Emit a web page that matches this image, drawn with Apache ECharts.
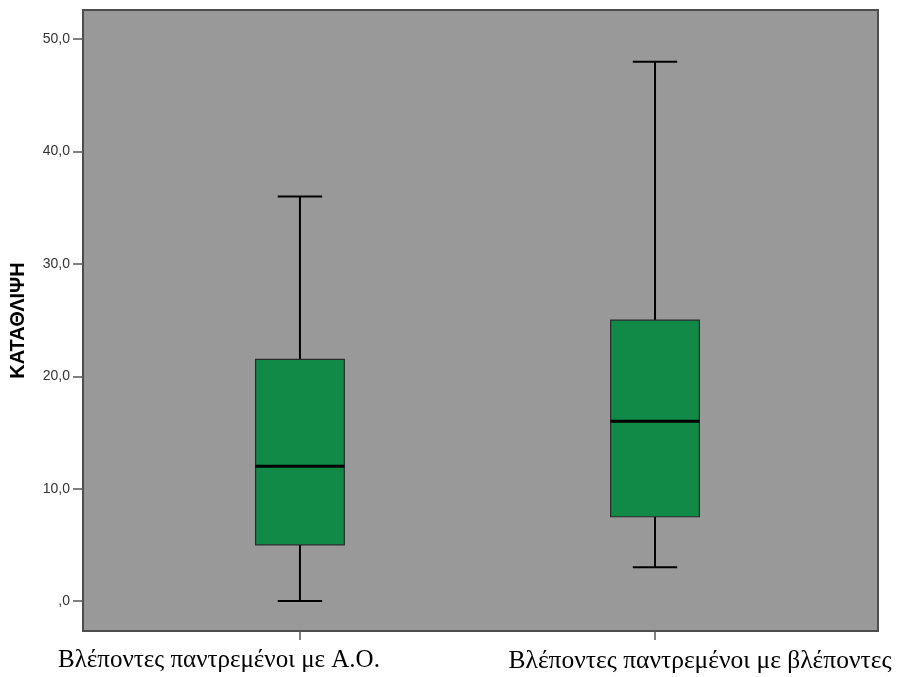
<!DOCTYPE html>
<html>
<head>
<meta charset="utf-8">
<script src="https://cdn.jsdelivr.net/npm/echarts@6/dist/echarts.min.js"></script>
<style>html,body{margin:0;padding:0;background:#fff;}#c{width:909px;height:677px;}</style>
</head>
<body>
<div id="c"></div>
<script>
const categories = ['Βλέποντες παντρεμένοι με Α.Ο.', 'Βλέποντες παντρεμένοι με βλέποντες'];
const minValues = [0, 3];
const q1Values = [5, 7.5];
const medianValues = [12, 16];
const q3Values = [21.5, 25];
const maxValues = [36, 48];
const yTicks = [0, 10, 20, 30, 40, 50];
const yAxisTitle = 'ΚΑΤΑΘΛΙΨΗ';

const data = categories.map((c, i) => [i + 1, minValues[i], q1Values[i], medianValues[i], q3Values[i], maxValues[i]]);

const chart = echarts.init(document.getElementById('c'), null, {renderer: 'canvas'});
chart.setOption({
  animation: false,
  backgroundColor: '#ffffff',
  grid: {
    left: 83, right: 31, top: 10, bottom: 46,
    show: true, backgroundColor: '#999999', borderColor: '#4d4d4d', borderWidth: 2
  },
  xAxis: {
    type: 'value', min: 0.389, max: 2.628,
    splitLine: {show: false},
    axisLine: {show: false, onZero: false},
    axisTick: {show: true, customValues: [1, 2], length: 9, lineStyle: {color: '#555555', width: 1.5}},
    axisLabel: {
      customValues: [1, 2], margin: 17,
      formatter: v => (Math.round(v) === 1 ? '{l|' : '{r|') + categories[Math.round(v) - 1] + '}',
      fontFamily: 'Liberation Serif', fontSize: 25, color: '#000000',
      rich: {
        l: {fontFamily: 'Liberation Serif', fontSize: 25, color: '#000000', padding: [0, 162, 0, 0]},
        r: {fontFamily: 'Liberation Serif', fontSize: 25.5, color: '#000000', padding: [0, 0, 0, 90]}
      }
    }
  },
  yAxis: {
    type: 'value', min: -2.67, max: 52.6,
    name: yAxisTitle, nameLocation: 'middle', nameGap: 55, nameRotate: 90,
    nameTextStyle: {fontFamily: 'Liberation Sans', fontWeight: 'bold', fontSize: 20, color: '#000000'},
    splitLine: {show: false},
    axisLine: {show: false, onZero: false},
    axisTick: {show: true, customValues: yTicks, length: 10, lineStyle: {color: '#555555', width: 1.5}},
    axisLabel: {
      customValues: yTicks, margin: 13,
      formatter: v => (v === 0 ? ',0' : v.toFixed(1).replace('.', ',')),
      fontFamily: 'Liberation Sans', fontSize: 14, color: '#333333'
    }
  },
  series: [{
    type: 'custom',
    data: data,
    encode: {x: 0, y: [1, 2, 3, 4, 5]},
    renderItem: function (params, api) {
      const x = api.value(0);
      const boxW = api.size([0.25, 0])[0];
      const capW = boxW / 2;
      const pMin = api.coord([x, api.value(1)]);
      const pQ1 = api.coord([x, api.value(2)]);
      const pMed = api.coord([x, api.value(3)]);
      const pQ3 = api.coord([x, api.value(4)]);
      const pMax = api.coord([x, api.value(5)]);
      const cx = pMin[0];
      const ws = {stroke: '#000000', lineWidth: 2};
      return {
        type: 'group',
        children: [
          {type: 'line', shape: {x1: cx, y1: pMax[1], x2: cx, y2: pQ3[1]}, style: ws},
          {type: 'line', shape: {x1: cx, y1: pQ1[1], x2: cx, y2: pMin[1]}, style: ws},
          {type: 'line', shape: {x1: cx - capW / 2, y1: pMax[1], x2: cx + capW / 2, y2: pMax[1]}, style: ws},
          {type: 'line', shape: {x1: cx - capW / 2, y1: pMin[1], x2: cx + capW / 2, y2: pMin[1]}, style: ws},
          {type: 'rect', shape: {x: cx - boxW / 2, y: pQ3[1], width: boxW, height: pQ1[1] - pQ3[1]},
            style: {fill: '#118a48', stroke: '#2a2a2a', lineWidth: 1.2}},
          {type: 'line', shape: {x1: cx - boxW / 2, y1: pMed[1], x2: cx + boxW / 2, y2: pMed[1]},
            style: {stroke: '#000000', lineWidth: 3}}
        ]
      };
    }
  }]
});
</script>
</body>
</html>
